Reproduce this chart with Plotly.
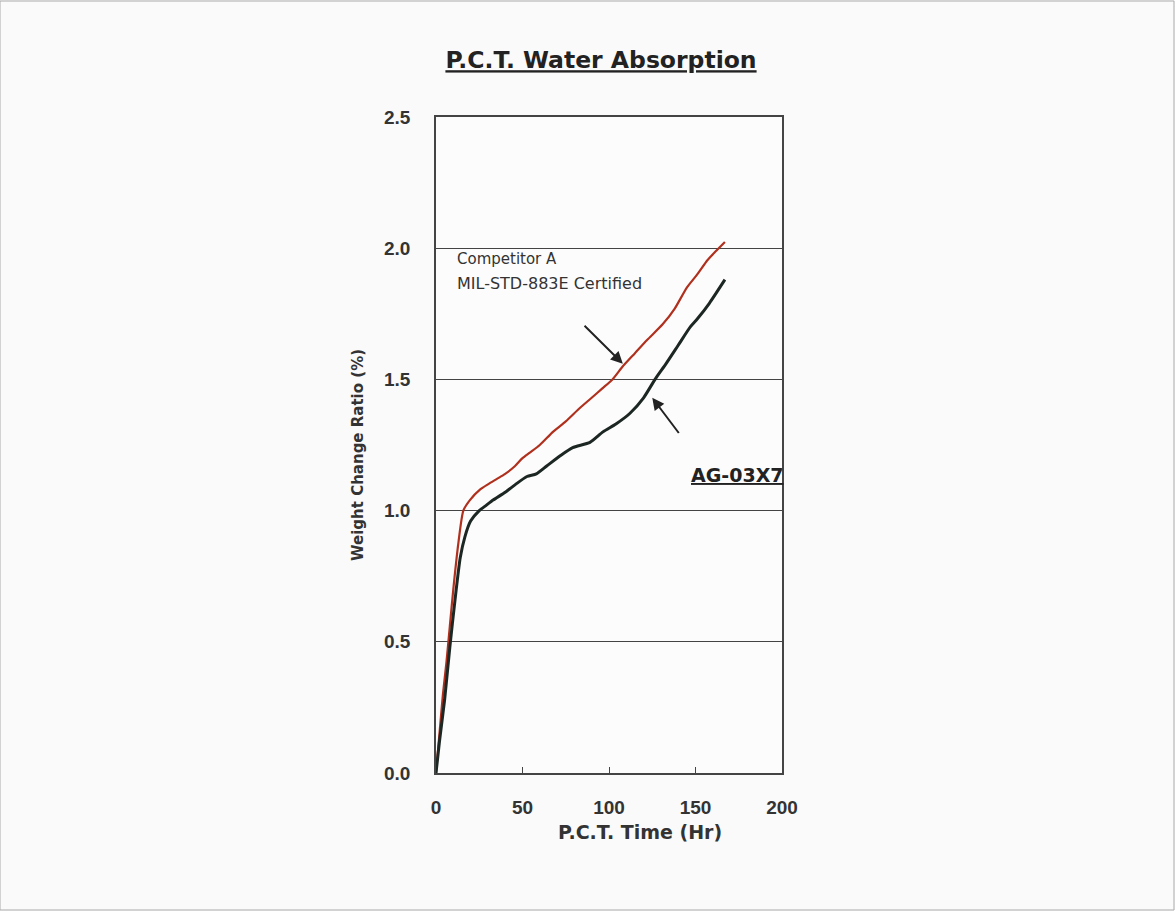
import plotly.graph_objects as go

# Competitor A (red)
comp_t = [0, 2, 4, 6, 8, 10, 13, 15.8, 19.6, 25.4, 30, 35, 40, 45.7, 50, 54, 60, 67.6, 75, 83, 90, 96, 102, 108, 115, 122, 131, 138, 145, 151, 157, 162, 167]
comp_y = [0, 0.15, 0.30, 0.42, 0.56, 0.70, 0.88, 1.00, 1.04, 1.08, 1.10, 1.12, 1.14, 1.17, 1.20, 1.22, 1.25, 1.30, 1.34, 1.39, 1.43, 1.465, 1.50, 1.55, 1.60, 1.65, 1.71, 1.77, 1.85, 1.90, 1.955, 1.99, 2.024]

# AG-03X7 (black)
ag_t = [0, 2, 5, 8, 11, 14, 16.7, 20, 25, 29, 33, 40, 46, 52.6, 58, 64, 72, 79, 89, 96.5, 104, 112, 120, 126.6, 133, 140, 147, 151, 158, 167]
ag_y = [0, 0.12, 0.28, 0.48, 0.66, 0.82, 0.90, 0.96, 1.00, 1.02, 1.04, 1.07, 1.10, 1.13, 1.14, 1.17, 1.21, 1.24, 1.26, 1.30, 1.33, 1.37, 1.43, 1.50, 1.56, 1.63, 1.70, 1.73, 1.79, 1.88]

x_ticks = [0, 50, 100, 150, 200]
y_ticks = [0.0, 0.5, 1.0, 1.5, 2.0, 2.5]

FONT = "DejaVu Sans, Liberation Sans, Arial, sans-serif"

fig = go.Figure()
fig.add_trace(go.Scatter(x=comp_t, y=comp_y, mode="lines", name="Competitor A",
                         line=dict(color="#b0301e", width=2.2, shape="spline", smoothing=0.6)))
fig.add_trace(go.Scatter(x=ag_t, y=ag_y, mode="lines", name="AG-03X7",
                         line=dict(color="#1c2622", width=3, shape="spline", smoothing=0.6)))

tickfont = dict(family="Liberation Sans, Arial, sans-serif", size=19, color="#333333", weight="bold")

fig.update_layout(
    width=1175, height=911,
    margin=dict(l=436, r=393, t=117, b=138),
    paper_bgcolor="#fafafa",
    plot_bgcolor="#fcfcfc",
    showlegend=False,
    title=dict(text="<b><u>P.C.T. Water Absorption</u></b>", x=0.5115, xanchor="center",
               y=1 - 60 / 911, yanchor="middle",
               font=dict(family=FONT, size=23.5, color="#222222")),
    xaxis=dict(range=[0, 200], tickvals=x_ticks, ticktext=[str(v) for v in x_ticks],
               showgrid=False, zeroline=False, showline=True, linecolor="#444444", linewidth=1.5,
               mirror=True, ticks="inside", ticklen=6, tickcolor="#444444",
               tickfont=tickfont, ticklabelstandoff=16, fixedrange=True),
    yaxis=dict(range=[0, 2.5], tickvals=y_ticks, ticktext=[f"{v:.1f}" for v in y_ticks],
               showgrid=True, gridcolor="#444444", gridwidth=1.2, zeroline=False,
               showline=True, linecolor="#444444", linewidth=1.5, mirror=True,
               ticks="", tickfont=tickfont, ticklabelstandoff=20, fixedrange=True),
)

fig.add_annotation(xref="paper", yref="paper", x=-0.225, y=0.485, text="<b>Weight Change Ratio (%)</b>",
                   textangle=-90, showarrow=False, xanchor="center", yanchor="middle",
                   font=dict(family=FONT, size=15, color="#333333"))
fig.add_annotation(xref="x", yref="paper", x=118, y=-0.09, text="<b>P.C.T. Time (Hr)</b>",
                   showarrow=False, xanchor="center", yanchor="middle",
                   font=dict(family=FONT, size=19, color="#333333"))
fig.add_annotation(x=11, y=1.96, text="Competitor A", showarrow=False, xanchor="left", yanchor="middle",
                   font=dict(family=FONT, size=15, color="#333333"))
fig.add_annotation(x=11, y=1.865, text="MIL-STD-883E Certified", showarrow=False, xanchor="left", yanchor="middle",
                   font=dict(family=FONT, size=16, color="#333333"))
fig.add_annotation(x=108, y=1.56, ax=85, ay=1.71, axref="x", ayref="y", text="", showarrow=True,
                   arrowhead=2, arrowsize=1.2, arrowwidth=2, arrowcolor="#222222")
fig.add_annotation(x=125, y=1.43, ax=141, ay=1.29, axref="x", ayref="y", text="", showarrow=True,
                   arrowhead=2, arrowsize=1.2, arrowwidth=2, arrowcolor="#222222")
fig.add_annotation(x=146, y=1.135, text="<b><u>AG-03X7</u></b>", showarrow=False, xanchor="left", yanchor="middle",
                   font=dict(family=FONT, size=19, color="#222222"))

fig.add_shape(type="rect", xref="paper", yref="paper", x0=-436/346, x1=1 + 392/346,
              y0=-137/656, y1=1 + 116/656, line=dict(color="#aaaaaa", width=1))

fig.write_html("out.html")
